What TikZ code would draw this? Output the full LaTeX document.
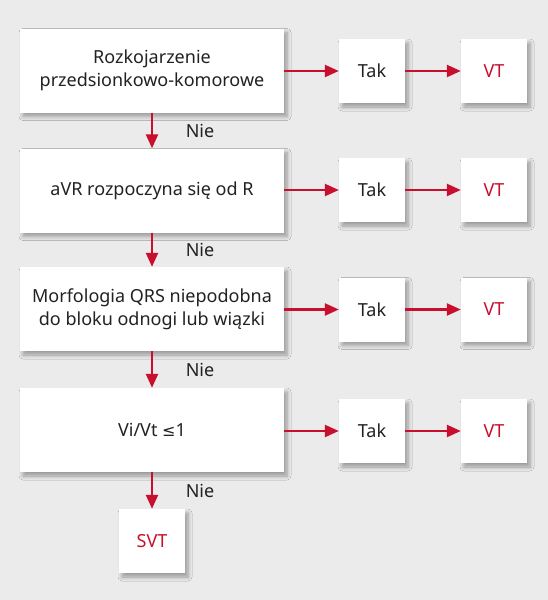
\documentclass[tikz,border=0pt]{standalone}
\usepackage{fontspec}
\setmainfont{Noto Sans}
\newfontfamily\symfont{DejaVu Sans}
\usetikzlibrary{shadows.blur,arrows.meta}
\definecolor{arrred}{HTML}{C8102E}
\definecolor{bg}{HTML}{EBEBEB}
\definecolor{txt}{HTML}{222222}
\begin{document}
\begin{tikzpicture}[x=1pt,y=-1pt,
  box/.style={fill=white, draw=none, blur shadow={shadow blur steps=6, shadow xshift=3pt, shadow yshift=-4pt, shadow opacity=35, shadow blur radius=4pt}, align=center, inner sep=0pt, font=\fontsize{18}{23}\selectfont, text=txt},
  big/.style={box, minimum width=264pt, minimum height=84pt},
  small/.style={box, minimum width=66pt, minimum height=64pt},
  redtxt/.style={text=arrred},
  arr/.style={draw=arrred, line width=2.4pt, -{Triangle[length=14pt,width=12pt]}},
  lbl/.style={font=\fontsize{18}{20}\selectfont, text=txt}]
\fill[bg] (0,0) rectangle (548,600);
\useasboundingbox (0,0) rectangle (548,600);

\node[big] (b1) at (152,70.5) {Rozkojarzenie\\przedsionkowo-komorowe};
\node[big] (b2) at (152,190.5) {aVR rozpoczyna się od R};
\node[big] (b3) at (152,309) {Morfologia QRS niepodobna\\do bloku odnogi lub wiązki};
\node[big] (b4) at (152,430) {Vi/Vt {\symfont\fontsize{16}{20}\selectfont ≤}1};
\node[small, redtxt] (svt) at (152,541) {SVT};

\node[small] (t1) at (372,71) {Tak};
\node[small] (t2) at (372,190) {Tak};
\node[small] (t3) at (372,309.5) {Tak};
\node[small] (t4) at (372,431) {Tak};

\node[small, redtxt] (v1) at (494,71) {VT};
\node[small, redtxt] (v2) at (494,190) {VT};
\node[small, redtxt] (v3) at (494,309.5) {VT};
\node[small, redtxt] (v4) at (494,431) {VT};

\foreach \i in {1,2,3,4}{
  \draw[arr] (b\i.east |- t\i.west) -- (t\i.west);
  \draw[arr] (t\i.east) -- (v\i.west);
}
\draw[arr] (b1.south) -- (b2.north);
\draw[arr] (b2.south) -- (b3.north);
\draw[arr] (b3.south) -- (b4.north);
\draw[arr] (b4.south) -- (svt.north);

\node[lbl] (n1) at (200,131) {Nie};
\node[lbl] (n2) at (200,250) {Nie};
\node[lbl] (n3) at (200,370) {Nie};
\node[lbl] (n4) at (200,491) {Nie};
\end{tikzpicture}
\end{document}
